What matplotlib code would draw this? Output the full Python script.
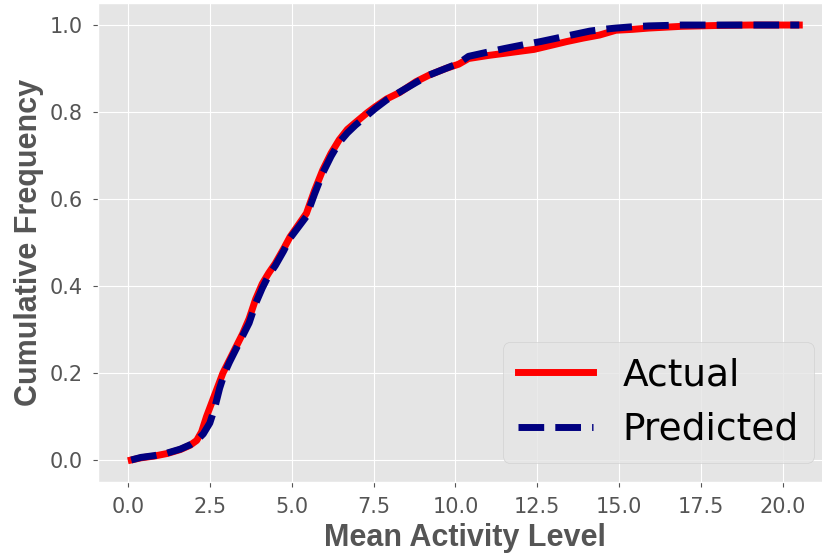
import matplotlib
matplotlib.use("Agg")
import matplotlib.pyplot as plt

# Cumulative frequency of mean activity level
actual_x = [0.1, 0.4, 0.8, 1.2, 1.6, 1.9, 2.1, 2.25, 2.4, 2.55, 2.7, 2.9, 3.1,
            3.3, 3.5, 3.7, 3.9, 4.1, 4.3, 4.5, 4.75, 4.95, 5.2, 5.45, 5.7,
            5.95, 6.2, 6.45, 6.7, 6.95, 7.3, 7.55, 7.9, 8.3, 8.8, 9.2, 9.7,
            10.1, 10.4, 11.0, 11.5, 12.0, 12.4, 12.9, 13.4, 13.9, 14.4, 14.9,
            15.4, 15.9, 16.4, 16.9, 18.0, 19.0, 20.5]
actual_y = [0.0, 0.005, 0.009, 0.015, 0.024, 0.034, 0.045, 0.065, 0.1, 0.13,
            0.16, 0.2, 0.23, 0.26, 0.29, 0.325, 0.37, 0.405, 0.43, 0.452,
            0.485, 0.513, 0.54, 0.567, 0.62, 0.667, 0.705, 0.736, 0.76, 0.776,
            0.798, 0.812, 0.83, 0.845, 0.87, 0.885, 0.9, 0.91, 0.923, 0.93,
            0.935, 0.94, 0.944, 0.953, 0.962, 0.97, 0.977, 0.988, 0.99, 0.993,
            0.995, 0.997, 0.999, 1.0, 1.0]

pred_x = [0.1, 0.4, 0.8, 1.2, 1.6, 1.9, 2.1, 2.3, 2.5, 2.65, 2.8, 2.95, 3.1,
          3.3, 3.5, 3.7, 3.9, 4.1, 4.3, 4.5, 4.75, 4.95, 5.2, 5.45, 5.7, 5.95,
          6.2, 6.45, 6.7, 6.95, 7.3, 7.55, 7.9, 8.3, 8.8, 9.2, 9.7, 10.1,
          10.4, 11.0, 11.5, 12.1, 12.6, 13.1, 13.6, 14.1, 14.5, 14.9, 15.4,
          15.9, 16.4, 16.9, 18.0, 19.0, 20.5]
pred_y = [0.0, 0.006, 0.01, 0.016, 0.025, 0.035, 0.045, 0.06, 0.085, 0.12,
          0.165, 0.2, 0.225, 0.255, 0.285, 0.315, 0.36, 0.395, 0.425, 0.447,
          0.48, 0.51, 0.535, 0.56, 0.612, 0.66, 0.698, 0.73, 0.752, 0.77,
          0.792, 0.808, 0.828, 0.846, 0.868, 0.885, 0.9, 0.912, 0.928, 0.938,
          0.946, 0.955, 0.962, 0.97, 0.978, 0.986, 0.99, 0.993, 0.996, 0.998,
          0.999, 1.0, 1.0, 1.0, 1.0]

plt.style.use('ggplot')

fig = plt.figure(figsize=(8.22, 5.57), dpi=100)
# axes run a little past the right edge, like the cropped original
ax = fig.add_axes([0.119, 0.1351, 0.894, 0.859])

ax.plot(actual_x, actual_y, color='red', lw=5, label='Actual')
ax.plot(pred_x, pred_y, color='navy', lw=5, ls='--', label='Predicted')

ax.set_xlim(-0.92, 21.52)
ax.set_ylim(-0.05, 1.05)
ax.set_xticks([0, 2.5, 5, 7.5, 10, 12.5, 15, 17.5, 20])
ax.set_yticks([0, 0.2, 0.4, 0.6, 0.8, 1.0])
ax.tick_params(labelsize=15, pad=7.5)

lab_font = dict(family='Liberation Sans', fontsize=22, fontweight='bold', color='#555555')
ax.set_xlabel('Mean Activity Level', **lab_font)
ax.set_ylabel('Cumulative Frequency', **lab_font)

ax.legend(loc='lower right', fontsize=27)

fig.savefig('out.png', dpi=100)
